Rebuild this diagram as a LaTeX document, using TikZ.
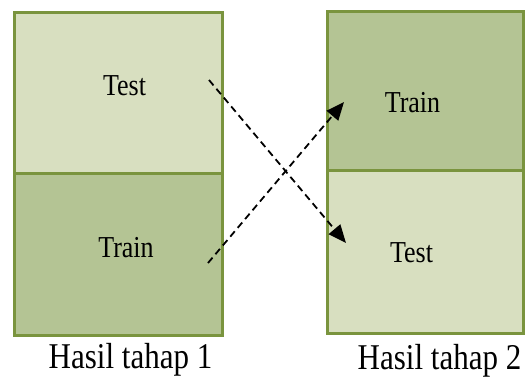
\documentclass[tikz,border=0pt]{standalone}
\usepackage{fontspec}
\setmainfont{Liberation Serif}
\usepackage{graphicx}
\usetikzlibrary{positioning,arrows.meta}
\definecolor{lightolive}{RGB}{216,223,192}
\definecolor{darkolive}{RGB}{180,196,148}
\definecolor{edgeolive}{RGB}{122,148,62}

\begin{document}
\begin{tikzpicture}[x=1pt,y=-1pt,
        cell/.style={rectangle, draw=edgeolive, line width=3pt, inner sep=0pt},
        light/.style={cell, fill=lightolive},
        dark/.style={cell, fill=darkolive},
        celltext/.style={inner sep=0pt, font=\fontsize{26}{26}\selectfont},
        caption/.style={inner sep=0pt, anchor=base, font=\fontsize{31}{31}\selectfont},
        arrow/.style={-{Triangle[length=18pt,width=15pt]}, line width=1.8pt, dash pattern=on 7pt off 4.5pt},
      ]
      \useasboundingbox (0,0) rectangle (525,376);
      % hasil tahap 1
      \node [light, minimum width=208pt, minimum height=161pt] (test1) at (118,93) {};
      \node [dark, minimum width=208pt, minimum height=162pt] (train1) at (118,254) {};
      % hasil tahap 2
      \node [dark, minimum width=196pt, minimum height=159pt] (train2) at (425.5,90.5) {};
      \node [light, minimum width=196pt, minimum height=163pt] (test2) at (425.5,251.5) {};
      % teks
      \node [celltext] (t1) at (124.5,85.5) {\scalebox{1}[1.17]{Test}};
      \node [celltext] (r1) at (126,247.5) {\scalebox{1}[1.17]{Train}};
      \node [celltext] (r2) at (412.5,103) {\scalebox{1}[1.17]{Train}};
      \node [celltext] (t2) at (411.5,253) {\scalebox{1}[1.17]{Test}};
      \node [caption] (cap1) at (130.5,368) {\scalebox{1}[1.17]{Hasil tahap 1}};
      \node [caption] (cap2) at (439.5,369) {\scalebox{1}[1.17]{Hasil tahap 2}};
      % panah
      \coordinate (s1) at (209,80);
      \coordinate (e1) at (346,243);
      \coordinate (s2) at (208,263);
      \coordinate (e2) at (344,102);
      \draw [arrow] (s1) -- (e1);
      \draw [arrow] (s2) -- (e2);
    \end{tikzpicture}
\end{document}
